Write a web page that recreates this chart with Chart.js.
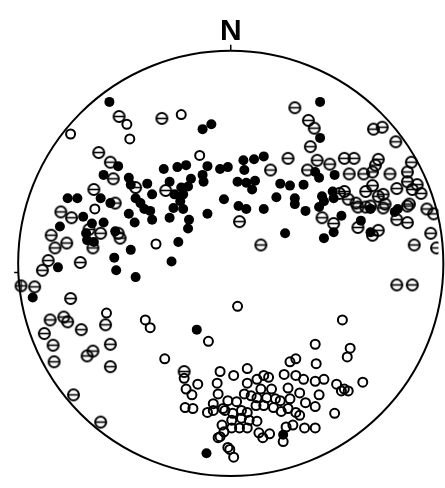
<!DOCTYPE html>
<html>
<head>
<meta charset="utf-8">
<title>Stereonet</title>
<script src="https://cdn.jsdelivr.net/npm/chart.js@4/dist/chart.umd.min.js"></script>
<style>
  html, body { margin: 0; padding: 0; background: #fff; }
  #wrap { position: relative; width: 445px; height: 488px; }
</style>
</head>
<body>
<div id="wrap"><canvas id="netChart" width="445" height="488"></canvas></div>
<script>
// Net units: origin at the centre of the net, x = east, y = north
const NET_RADIUS = 219;
const NORTH_LABEL = 'N';

// solid dots
const filledPoles = [
    [-125,166], [-29,138], [-20,143], [92,166], [92,129], [13,106], [24,107], [34,110],
    [-116,100], [-131,91], [-105,88], [-103,81], [-86,82], [-81,71], [-69,97], [-55,99],
    [-46,101], [-41,87], [-29,91], [-28,84], [-24,100], [-11,97], [-3,99], [14,96],
    [-7,66], [-63,84], [-51,78], [-44,79], [-58,71], [-49,71], [-52,64], [-59,57],
    [-49,56], [-24,51], [-43,45], [-44,36], [-63,47], [-54,22], [-61,2], [-81,45],
    [-99,42], [-105,51], [-103,14], [-118,-7], [-98,-14], [-120,6], [-98,67], [-93,62],
    [-89,56], [-83,54], [7,84], [16,83], [25,85], [22,76], [8,59], [16,56], [34,56],
    [51,82], [61,80], [75,81], [47,68], [66,67], [66,61], [77,54], [56,31], [96,26],
    [91,88], [107,91], [87,94], [94,69], [105,74], [91,58], [96,64], [106,67], [114,49],
    [134,44], [144,32], [106,32], [172,56], [169,53], [144,56], [-168,67], [-158,67],
    [-152,48], [-134,67], [-124,62], [-176,38], [-178,-4], [-143,41], [-131,42],
    [-149,31], [-148,24], [-141,22], [-119,33], [-204,-35], [-35,-68], [-25,-195], [54,-176]
];

// circles with a horizontal bar
const barredPoles = [
    [-115,151], [-71,149], [-136,114], [-124,104], [-121,87], [-98,78], [-67,75], [-141,76],
    [-119,62], [66,160], [80,147], [86,139], [82,120], [147,138], [156,140], [170,125],
    [59,108], [89,106], [102,102], [117,108], [127,108], [152,107], [186,104], [41,96],
    [79,96], [122,92], [137,92], [149,101], [146,94], [164,92], [182,94], [192,81],
    [117,74], [139,74], [146,80], [152,69], [171,77], [182,84], [187,76], [196,72],
    [112,72], [121,66], [131,58], [139,58], [159,61], [182,59], [202,56], [209,51],
    [94,47], [106,41], [131,37], [171,45], [182,42], [152,34], [146,29], [31,19],
    [189,19], [206,31], [212,16], [129,62], [144,59], [157,57], [184,61], [157,71],
    [171,-22], [187,-22], [9,43], [-175,53], [-164,47], [-185,29], [-169,21], [-181,16],
    [-188,3], [-194,-7], [-155,1], [-146,35], [-134,31], [-142,16], [-116,31], [-114,26],
    [-202,-24], [-165,-36], [-186,-58], [-172,-55], [-168,-60], [-154,-68], [-192,-72],
    [-183,-84], [-182,-101], [-129,-63], [-124,-83], [-142,-90], [-148,-95], [-124,-106],
    [-162,-135], [-134,-163], [-48,-111]
];

// circle with a cross
const crossedPoles = [
    [-216,-23]
];

// open circles
const openPoles = [
    [-165,133], [-107,143], [-104,128], [-51,153], [-32,111], [-140,56], [-77,20], [7,-44],
    [-128,-51], [-88,-58], [-83,-66], [-23,-80], [-68,-98], [-48,-118], [-34,-124],
    [-46,-129], [-40,-135], [-47,-148], [-39,-149], [-11,-111], [-14,-123], [-13,-134],
    [-24,-153], [-18,-151], [-11,-178], [-7,-173], [-3,-189], [3,-199], [115,-58],
    [87,-83], [123,-87], [120,-96], [61,-101], [67,-98], [88,-103], [17,-108], [3,-115],
    [34,-115], [39,-117], [27,-119], [55,-114], [67,-115], [75,-119], [87,-121], [96,-119],
    [136,-122], [109,-124], [117,-129], [121,-131], [114,-131], [17,-123], [31,-129],
    [59,-128], [71,-133], [91,-135], [14,-134], [21,-136], [27,-138], [37,-138], [-3,-141],
    [6,-142], [51,-141], [61,-139], [-6,-151], [2,-154], [11,-151], [17,-153], [26,-146],
    [34,-146], [44,-148], [52,-152], [77,-143], [87,-147], [67,-153], [107,-154], [1,-161],
    [11,-159], [19,-161], [27,-162], [-9,-166], [1,-169], [9,-169], [17,-169], [57,-168],
    [64,-166], [76,-169], [87,-169], [40,-175], [33,-179], [54,-183], [-13,-179], [-1,-191],
    [-18,-144], [-8,-149], [42,-129], [46,-139], [59,-149], [71,-156], [29,-174]
];

/**
 * Builds a small canvas used as a point style: a ring with a bar and optional cross.
 */
function makeRingStyle(withCross) {
    const c = document.createElement('canvas');
    c.width = 15;
    c.height = 15;
    const g = c.getContext('2d');
    g.strokeStyle = '#000';
    g.lineWidth = 2;
    g.beginPath();
    g.arc(7.5, 7.5, 5.5, 0, Math.PI * 2);
    g.stroke();
    g.lineWidth = 1.6;
    g.beginPath();
    g.moveTo(2, 7.5);
    g.lineTo(13, 7.5);
    if (withCross) {
        g.moveTo(7.5, 2);
        g.lineTo(7.5, 13);
    }
    g.stroke();
    return c;
}

const toXY = (pairs) => pairs.map(([x, y]) => ({ x, y }));

// Draws the primitive circle, the tick marks and the north label
const netOutline = {
    id: 'netOutline',
    beforeDatasetsDraw(chart) {
        const { ctx, scales: { x, y } } = chart;
        const cx = x.getPixelForValue(0);
        const cy = y.getPixelForValue(0);
        const r = x.getPixelForValue(NET_RADIUS) - cx;
        ctx.save();
        ctx.strokeStyle = '#000';
        ctx.lineWidth = 2;
        ctx.beginPath();
        ctx.arc(cx, cy, r, 0, Math.PI * 2);
        ctx.stroke();
        ctx.lineWidth = 1.5;
        ctx.beginPath();
        ctx.moveTo(cx, cy - r);
        ctx.lineTo(cx, cy - r - 6);
        ctx.moveTo(cx - r, cy + 9);
        ctx.lineTo(cx - r - 4, cy + 9);
        ctx.stroke();
        ctx.fillStyle = '#000';
        ctx.font = 'bold 30px "Liberation Sans", Arial, sans-serif';
        ctx.textAlign = 'center';
        ctx.textBaseline = 'alphabetic';
        ctx.fillText(NORTH_LABEL, cx, cy - r - 11);
        ctx.restore();
    }
};

document.addEventListener('DOMContentLoaded', () => {
    const barStyle = makeRingStyle(false);
    const crossStyle = makeRingStyle(true);

    const ctx = document.getElementById('netChart').getContext('2d');
    new Chart(ctx, {
        type: 'scatter',
        data: {
            datasets: [
                {
                    label: 'open',
                    data: toXY(openPoles),
                    pointStyle: 'circle',
                    pointRadius: 4.5,
                    borderWidth: 2,
                    borderColor: '#000',
                    backgroundColor: 'rgba(0,0,0,0)'
                },
                {
                    label: 'barred',
                    data: toXY(barredPoles),
                    pointStyle: barStyle
                },
                {
                    label: 'crossed',
                    data: toXY(crossedPoles),
                    pointStyle: crossStyle
                },
                {
                    label: 'filled',
                    data: toXY(filledPoles),
                    pointStyle: 'circle',
                    pointRadius: 5,
                    borderWidth: 0,
                    backgroundColor: '#000'
                }
            ]
        },
        options: {
            responsive: false,
            devicePixelRatio: 1,
            animation: false,
            events: [],
            layout: { padding: 0 },
            plugins: {
                legend: { display: false },
                tooltip: { enabled: false }
            },
            scales: {
                x: { type: 'linear', min: -231, max: 214, display: false },
                y: { type: 'linear', min: -224, max: 264, display: false }
            }
        },
        plugins: [netOutline]
    });
});
</script>
</body>
</html>
